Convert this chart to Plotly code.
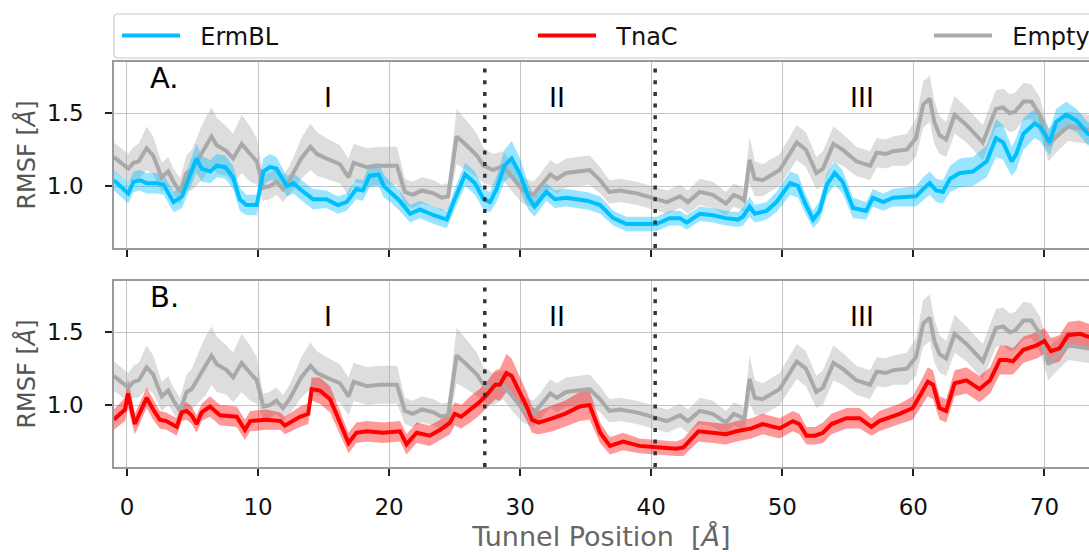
import plotly.graph_objects as go

# Tunnel position (Å), mean RMSF (Å) and spread for each system
pos_empty = [-1.0, 0.1, 0.5, 0.9, 1.5, 2.0, 2.65, 3.15, 3.55, 4.05,
             4.55, 4.95, 5.6, 5.95, 6.45, 6.85, 7.6, 8.1, 8.75, 9.4,
             9.9, 10.4, 10.9, 11.4, 11.9, 12.4, 12.9, 13.3, 14.0, 14.5,
             15.2, 16.25, 16.9, 17.3, 18.3, 19.3, 20.6, 21.2, 21.8, 22.5,
             23.4, 24.0, 24.5, 25.15, 25.9, 26.7, 27.2, 27.95, 28.7, 29.5,
             30.2, 31.0, 31.5, 32.3, 32.8, 33.5, 35.3, 36.1, 36.8, 37.6,
             38.9, 40.15, 41.2, 42.2, 42.8, 43.7, 44.7, 45.7, 46.3, 46.8,
             47.1, 47.5, 47.9, 48.5, 49.8, 51.1, 51.8, 52.6, 53.1, 53.9,
             54.6, 55.65, 56.7, 57.2, 57.9, 58.45, 59.5, 60.2, 60.75, 61.25,
             61.6, 62.0, 62.5, 63.15, 64.05, 65.3, 66.3, 66.85, 67.35, 67.75,
             68.4, 69.0, 69.65, 70.3, 70.8, 71.8, 73.2, 74.0]
rmsf_empty = [1.20, 1.12, 1.16, 1.17, 1.26, 1.21, 1.06, 1.10, 1.03, 0.96,
              1.09, 1.11, 1.21, 1.26, 1.34, 1.28, 1.24, 1.19, 1.29, 1.22,
              1.17, 0.99, 1.00, 1.03, 0.98, 1.04, 1.12, 1.19, 1.27, 1.22,
              1.19, 1.15, 1.06, 1.16, 1.13, 1.14, 1.14, 0.96, 0.94, 0.97,
              0.95, 0.92, 0.93, 1.34, 1.28, 1.21, 1.14, 1.11, 1.14, 1.05,
              0.97, 0.94, 0.99, 1.08, 1.05, 1.09, 1.11, 1.04, 0.96, 0.97,
              0.95, 0.92, 0.89, 0.93, 0.89, 0.96, 0.94, 0.88, 0.94, 0.92,
              0.90, 1.18, 1.05, 1.04, 1.11, 1.30, 1.25, 1.09, 1.12, 1.29,
              1.25, 1.17, 1.14, 1.23, 1.22, 1.24, 1.25, 1.33, 1.56, 1.60,
              1.44, 1.35, 1.32, 1.49, 1.42, 1.30, 1.53, 1.54, 1.50, 1.51,
              1.58, 1.58, 1.49, 1.28, 1.33, 1.41, 1.39, 1.38]
err_empty = [0.10, 0.10, 0.11, 0.12, 0.15, 0.13, 0.10, 0.10, 0.09, 0.09,
             0.12, 0.14, 0.18, 0.20, 0.20, 0.19, 0.17, 0.17, 0.20, 0.19,
             0.16, 0.09, 0.09, 0.09, 0.09, 0.10, 0.12, 0.14, 0.16, 0.15,
             0.14, 0.13, 0.13, 0.13, 0.13, 0.13, 0.13, 0.09, 0.09, 0.09,
             0.09, 0.09, 0.09, 0.19, 0.17, 0.15, 0.12, 0.11, 0.10, 0.10,
             0.09, 0.09, 0.09, 0.10, 0.10, 0.10, 0.10, 0.09, 0.08, 0.08,
             0.08, 0.08, 0.08, 0.08, 0.08, 0.09, 0.09, 0.08, 0.08, 0.08,
             0.08, 0.16, 0.12, 0.11, 0.11, 0.12, 0.12, 0.11, 0.12, 0.12,
             0.11, 0.10, 0.10, 0.10, 0.10, 0.10, 0.11, 0.13, 0.16, 0.16,
             0.15, 0.13, 0.12, 0.13, 0.12, 0.12, 0.13, 0.13, 0.13, 0.13,
             0.13, 0.12, 0.12, 0.11, 0.11, 0.10, 0.10, 0.10]

pos_ermbl = [-1.0, 0.1, 0.5, 1.0, 1.5, 2.3, 2.8, 3.55, 4.2, 4.7,
             5.3, 5.7, 6.35, 6.85, 7.5, 8.1, 8.6, 9.1, 9.9, 10.4,
             10.9, 11.4, 12.2, 12.7, 13.2, 14.2, 15.2, 16.1, 16.75, 17.5,
             18.0, 18.5, 19.2, 19.6, 20.1, 20.8, 21.6, 22.35, 23.4, 24.4,
             25.0, 25.8, 26.55, 27.2, 27.7, 28.2, 28.8, 29.35, 30.0, 30.6,
             31.1, 32.0, 32.65, 33.5, 35.1, 36.1, 37.1, 38.1, 39.6, 40.4,
             41.4, 42.2, 42.7, 43.7, 44.7, 45.7, 46.6, 47.0, 47.5, 47.9,
             48.8, 49.55, 50.6, 51.2, 51.7, 52.35, 52.85, 53.4, 54.0, 54.6,
             55.4, 56.4, 56.9, 57.7, 58.45, 60.2, 60.75, 61.25, 61.75, 62.25,
             62.8, 63.55, 64.55, 65.6, 66.3, 66.85, 67.5, 67.85, 68.4, 69.25,
             69.65, 70.4, 70.9, 71.65, 72.45, 73.3, 74.0]
rmsf_ermbl = [1.04, 0.95, 1.03, 1.04, 1.02, 1.02, 1.01, 0.89, 0.93, 1.05,
              1.19, 1.12, 1.10, 1.14, 1.13, 1.06, 0.91, 0.87, 0.87, 1.10,
              1.13, 1.12, 1.00, 1.02, 0.98, 0.91, 0.91, 0.87, 0.89, 0.98,
              0.97, 1.07, 1.08, 1.00, 0.96, 0.90, 0.81, 0.84, 0.80, 0.77,
              0.91, 1.08, 1.02, 0.91, 0.89, 0.98, 1.14, 1.19, 1.08, 0.93,
              0.86, 0.96, 0.91, 0.92, 0.90, 0.87, 0.78, 0.74, 0.74, 0.74,
              0.78, 0.78, 0.75, 0.81, 0.80, 0.78, 0.77, 0.79, 0.86, 0.81,
              0.83, 0.89, 1.02, 1.00, 0.89, 0.77, 0.83, 1.01, 1.09, 1.03,
              0.85, 0.83, 0.92, 0.89, 0.92, 0.93, 0.98, 1.02, 0.97, 0.96,
              1.05, 1.09, 1.10, 1.17, 1.33, 1.30, 1.17, 1.22, 1.36, 1.43,
              1.41, 1.30, 1.44, 1.49, 1.45, 1.36, 1.34]
err_ermbl = [0.07, 0.07, 0.07, 0.07, 0.07, 0.07, 0.07, 0.07, 0.08, 0.09,
             0.10, 0.09, 0.08, 0.08, 0.08, 0.08, 0.08, 0.07, 0.07, 0.09,
             0.09, 0.08, 0.07, 0.07, 0.07, 0.07, 0.06, 0.06, 0.06, 0.07,
             0.07, 0.08, 0.08, 0.08, 0.07, 0.07, 0.06, 0.06, 0.06, 0.06,
             0.07, 0.08, 0.08, 0.07, 0.07, 0.09, 0.11, 0.12, 0.11, 0.09,
             0.07, 0.06, 0.06, 0.06, 0.06, 0.06, 0.05, 0.05, 0.05, 0.05,
             0.05, 0.05, 0.05, 0.05, 0.05, 0.05, 0.05, 0.06, 0.07, 0.06,
             0.06, 0.07, 0.08, 0.08, 0.07, 0.06, 0.07, 0.08, 0.08, 0.08,
             0.07, 0.06, 0.06, 0.06, 0.06, 0.07, 0.08, 0.08, 0.08, 0.08,
             0.09, 0.10, 0.10, 0.11, 0.13, 0.12, 0.10, 0.11, 0.11, 0.10,
             0.10, 0.09, 0.09, 0.09, 0.08, 0.08, 0.08]

pos_tnac = [-1.0, -0.15, 0.08, 0.6, 1.1, 1.5, 2.0, 2.5, 3.0, 3.8,
            4.17, 4.55, 4.93, 5.32, 5.7, 6.33, 7.1, 8.37, 9.0, 9.4,
            10.65, 11.7, 12.05, 13.2, 13.83, 14.09, 14.72, 15.5, 16.25, 16.9,
            17.5, 18.3, 19.55, 20.83, 21.33, 22.1, 23.1, 23.9, 24.65, 25.0,
            25.5, 26.2, 26.9, 27.45, 28.1, 28.45, 28.95, 29.35, 30.0, 30.5,
            30.9, 31.4, 32.5, 33.4, 34.55, 35.3, 36.1, 36.85, 37.85, 39.1,
            40.4, 41.9, 42.45, 43.6, 44.7, 45.7, 46.5, 47.65, 48.5, 49.8,
            50.8, 51.3, 51.85, 52.5, 53.1, 53.75, 54.9, 55.9, 56.8, 57.4,
            58.95, 59.95, 60.6, 61.1, 61.5, 62.0, 62.5, 63.15, 64.05, 65.05,
            65.85, 66.6, 67.1, 67.6, 68.4, 69.4, 70.0, 70.5, 71.15, 71.8,
            72.7, 73.3, 74.0]
rmsf_tnac = [0.90, 0.97, 1.08, 0.87, 0.97, 1.05, 0.97, 0.90, 0.89, 0.85,
             0.95, 0.96, 0.93, 0.87, 0.95, 0.99, 0.93, 0.92, 0.83, 0.89,
             0.90, 0.89, 0.86, 0.92, 0.94, 1.11, 1.10, 1.04, 0.88, 0.74,
             0.81, 0.82, 0.81, 0.82, 0.73, 0.81, 0.79, 0.83, 0.88, 0.94,
             0.92, 0.97, 1.02, 1.07, 1.14, 1.14, 1.22, 1.20, 1.08, 0.99,
             0.90, 0.88, 0.91, 0.94, 0.99, 1.00, 0.81, 0.72, 0.75, 0.72,
             0.71, 0.70, 0.71, 0.82, 0.81, 0.80, 0.82, 0.84, 0.87, 0.84,
             0.89, 0.87, 0.79, 0.79, 0.81, 0.87, 0.91, 0.91, 0.85, 0.89,
             0.94, 0.98, 1.08, 1.16, 1.14, 0.98, 0.96, 1.15, 1.17, 1.11,
             1.17, 1.31, 1.31, 1.30, 1.38, 1.41, 1.44, 1.37, 1.39, 1.48,
             1.49, 1.47, 1.46]
err_tnac = [0.07, 0.08, 0.10, 0.07, 0.07, 0.07, 0.07, 0.06, 0.06, 0.06,
            0.06, 0.06, 0.06, 0.06, 0.06, 0.07, 0.07, 0.07, 0.07, 0.07,
            0.07, 0.06, 0.06, 0.07, 0.07, 0.08, 0.09, 0.09, 0.08, 0.07,
            0.07, 0.07, 0.07, 0.07, 0.07, 0.07, 0.07, 0.07, 0.08, 0.08,
            0.08, 0.09, 0.09, 0.09, 0.10, 0.11, 0.13, 0.12, 0.11, 0.10,
            0.09, 0.08, 0.09, 0.09, 0.10, 0.10, 0.07, 0.06, 0.06, 0.05,
            0.05, 0.05, 0.06, 0.07, 0.07, 0.07, 0.07, 0.07, 0.07, 0.07,
            0.07, 0.07, 0.06, 0.06, 0.07, 0.07, 0.07, 0.07, 0.06, 0.07,
            0.07, 0.08, 0.09, 0.10, 0.10, 0.08, 0.08, 0.09, 0.09, 0.09,
            0.09, 0.10, 0.10, 0.09, 0.09, 0.09, 0.09, 0.09, 0.09, 0.09,
            0.09, 0.09, 0.09]

boundaries = [27.3, 40.3]
region_names = ["I", "II", "III"]
region_centres = [15.3, 32.8, 56.1]
panel_names = ["A.", "B."]
x_ticks = [0, 10, 20, 30, 40, 50, 60, 70]
y_ticks = [1.0, 1.5]

BLUE, RED, GREY = "#00BFFF", "#FF0000", "#A9A9A9"
FONT = "DejaVu Sans"
PAD = "\u00a0\u00a0"  # gap between legend swatch and label

fig = go.Figure()


def band(x, m, e, fill, xa, ya):
    upper = [a + b for a, b in zip(m, e)]
    lower = [a - b for a, b in zip(m, e)]
    return go.Scatter(x=list(x) + list(x)[::-1], y=upper + lower[::-1],
                      fill="toself", fillcolor=fill, mode="lines",
                      line=dict(width=0), hoverinfo="skip", showlegend=False,
                      xaxis=xa, yaxis=ya)


panels = [("x", "y", pos_ermbl, rmsf_ermbl, err_ermbl, BLUE,
           "rgba(0,191,255,0.4)", "ErmBL", "legend"),
          ("x2", "y2", pos_tnac, rmsf_tnac, err_tnac, RED,
           "rgba(255,0,0,0.4)", "TnaC", "legend2")]

for i, (xa, ya, px, py, pe, col, fillc, name, leg) in enumerate(panels):
    fig.add_trace(band(pos_empty, rmsf_empty, err_empty,
                       "rgba(169,169,169,0.4)", xa, ya))
    fig.add_trace(band(px, py, pe, fillc, xa, ya))
    fig.add_trace(go.Scatter(x=pos_empty, y=rmsf_empty, mode="lines",
                             line=dict(color=GREY, width=4), name=PAD + "Empty",
                             legend="legend3", showlegend=(i == 0),
                             xaxis=xa, yaxis=ya))
    fig.add_trace(go.Scatter(x=px, y=py, mode="lines",
                             line=dict(color=col, width=4), name=PAD + name,
                             legend=leg, showlegend=True,
                             xaxis=xa, yaxis=ya))

W, H = 1089, 552
L = 114
top_dom = [1 - 248 / H, 1 - 62 / H]
bot_dom = [1 - 467 / H, 1 - 281 / H]
x_range = [-0.99, 73.4]
y_range = [0.575, 1.852]

axis_common = dict(range=x_range, tickvals=x_ticks, ticks="outside",
                   ticklen=7, tickwidth=1.5, tickcolor="#222",
                   ticklabelstandoff=12,
                   showgrid=True, gridcolor="#c4c4c4", gridwidth=1,
                   showline=True, linecolor="#999", linewidth=1.5,
                   mirror=True, zeroline=False,
                   tickfont=dict(family=FONT, size=23, color="#111"))
yaxis_common = dict(range=y_range, tickvals=y_ticks,
                    tickformat=".1f", ticks="outside", ticklen=7,
                    tickwidth=1.5, tickcolor="#222", ticklabelstandoff=17,
                    showgrid=True,
                    gridcolor="#c4c4c4", gridwidth=1, showline=True,
                    linecolor="#999", linewidth=1.5, zeroline=False,
                    tickfont=dict(family=FONT, size=23, color="#111"),
                    title=dict(text="RMSF [<i>Å</i>]", standoff=5,
                               font=dict(family=FONT, size=24, color="#555")))

fig.update_layout(
    xaxis=dict(axis_common, anchor="y", showticklabels=False),
    yaxis=dict(yaxis_common, domain=top_dom, anchor="x"),
    xaxis2=dict(axis_common, anchor="y2", matches="x",
                title=dict(text="Tunnel Position  [<i>Å</i>]", standoff=10,
                           font=dict(family=FONT, size=27, color="#666"))),
    yaxis2=dict(yaxis_common, domain=bot_dom, anchor="x2"),
)

# Region boundaries and labels
shapes = []
annotations = []
for xa, ya, lab in [("x", "y", panel_names[0]), ("x2", "y2", panel_names[1])]:
    for b in boundaries:
        shapes.append(dict(type="line", xref=xa, yref=f"{ya} domain",
                           x0=b, x1=b, y0=0, y1=1,
                           line=dict(color="#333", width=3.5, dash="4px,7.7px")))
    for name, c in zip(region_names, region_centres):
        annotations.append(dict(x=c, y=1.61, xref=xa, yref=ya, text=name,
                                showarrow=False,
                                font=dict(family=FONT, size=27, color="black")))
    annotations.append(dict(x=1.6, y=1.745, xref=xa, yref=ya, text=lab,
                            xanchor="left", showarrow=False,
                            font=dict(family=FONT, size=29, color="black")))

# Frame enclosing the legend entries
x0, x1 = 0.0, 1.2
y0, y1 = 1 - 58 / H, 1 - 14 / H
rx, ry = 4 / (W - L), 4 / H
shapes.append(dict(
    type="path", xref="paper", yref="paper",
    path=(f"M {x0 + rx},{y1} L {x1},{y1} L {x1},{y0} L {x0 + rx},{y0} "
          f"Q {x0},{y0} {x0},{y0 + ry} L {x0},{y1 - ry} "
          f"Q {x0},{y1} {x0 + rx},{y1} Z"),
    line=dict(color="#c8c8c8", width=1.2), fillcolor="white", layer="below"))

leg_style = dict(orientation="h", xanchor="left", yanchor="middle",
                 y=1 - 36 / H, bgcolor="rgba(0,0,0,0)", borderwidth=0,
                 itemwidth=58,
                 font=dict(family=FONT, size=24, color="#111"))
fig.update_layout(
    legend=dict(leg_style, x=(117 - L) / (W - L)),
    legend2=dict(leg_style, x=(533 - L) / (W - L)),
    legend3=dict(leg_style, x=(929 - L) / (W - L)),
    shapes=shapes, annotations=annotations,
    width=W, height=H,
    margin=dict(l=L, r=0, t=0, b=0, autoexpand=False),
    plot_bgcolor="white", paper_bgcolor="white",
    font=dict(family=FONT),
)

fig.write_html("out.html")
